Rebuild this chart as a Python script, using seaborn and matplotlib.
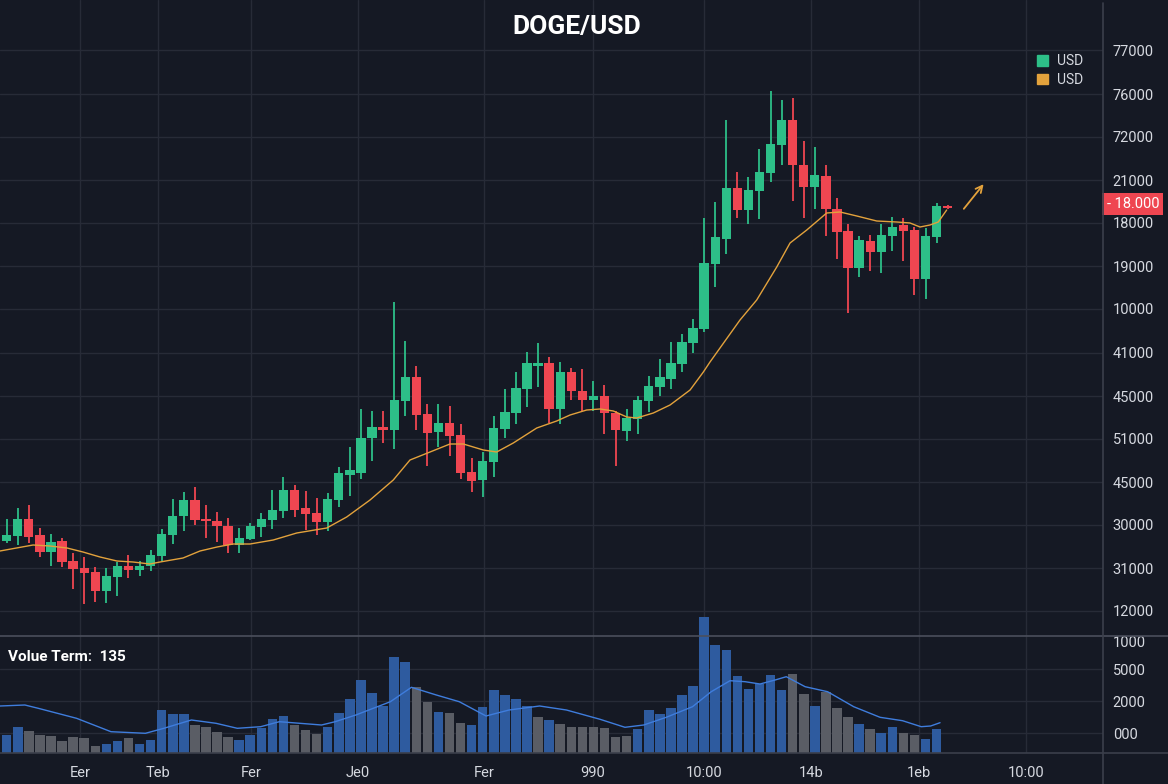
import numpy as np
import pandas as pd
import seaborn as sns
import matplotlib.pyplot as plt
from matplotlib.patches import Patch
from matplotlib.lines import Line2D

# ---- data (price on an arbitrary internal scale) ----
opens = [99, 104, 121, 105, 88, 99, 79, 72, 68, 49, 63, 74, 70, 74, 84, 105, 124, 140, 121, 119,
         114, 95, 101, 113, 120, 129, 150, 132, 127, 118, 140, 165, 167, 202, 213, 210, 239, 263, 226, 208,
         217, 205, 168, 160, 178, 211, 227, 251, 274, 277, 231, 268, 249, 240, 244, 227, 209, 221, 239, 253,
         261, 276, 297, 311, 376, 401, 452, 430, 449, 467, 495, 520, 475, 453, 464, 431, 409, 372, 399, 388,
         404, 415, 410, 361, 403, 434]
highs = [121, 132, 135, 112, 106, 102, 87, 83, 73, 72, 78, 85, 79, 90, 111, 141, 148, 153, 135, 128,
         122, 112, 117, 127, 150, 163, 155, 149, 142, 147, 173, 193, 231, 229, 229, 338, 299, 274, 236, 236,
         234, 216, 182, 188, 224, 251, 268, 288, 297, 283, 278, 272, 271, 259, 255, 229, 231, 244, 264, 281,
         298, 306, 321, 422, 438, 520, 468, 463, 491, 549, 540, 542, 499, 493, 475, 442, 416, 404, 405, 416,
         423, 422, 413, 412, 437, 435]
lows = [97, 95, 97, 83, 74, 73, 51, 36, 38, 37, 44, 62, 64, 69, 79, 96, 109, 115, 102, 98,
        87, 87, 100, 103, 111, 122, 123, 110, 105, 109, 133, 144, 161, 179, 197, 191, 224, 210, 174, 193,
        184, 161, 148, 143, 163, 202, 216, 233, 253, 217, 216, 240, 229, 229, 206, 174, 199, 206, 228, 244,
        251, 268, 287, 308, 353, 386, 422, 416, 421, 458, 475, 439, 422, 431, 404, 381, 327, 363, 369, 367,
        389, 379, 345, 341, 397, 431]
closes = [105, 121, 103, 88, 98, 78, 71, 67, 49, 64, 74, 70, 74, 85, 106, 124, 140, 120, 119, 114,
          95, 102, 114, 121, 130, 150, 130, 126, 118, 141, 167, 170, 202, 213, 210, 240, 263, 225, 207, 217,
          204, 167, 159, 179, 212, 228, 252, 277, 277, 231, 268, 249, 240, 244, 227, 210, 222, 240, 254, 263,
          277, 298, 312, 377, 403, 452, 430, 450, 468, 496, 520, 475, 453, 465, 431, 408, 372, 400, 388, 405,
          413, 409, 361, 404, 434, 432]

# moving average line (candle index, price)
ma_idx = [-0.61, 2.38, 3.91, 5.45, 6.89, 8.43, 9.96, 11.41, 12.94, 13.85, 15.93, 17.46, 19.0, 20.44,
          21.98, 24.08, 26.2, 28.91, 30.71, 32.82, 34.92, 36.43, 38.24, 40.04, 41.25, 43.05, 44.26,
          45.76, 47.88, 49.68, 50.89, 52.39, 53.6, 54.8, 56.01, 56.91, 58.41, 59.92, 61.73, 62.93,
          63.53, 66.24, 67.75, 69.56, 70.76, 72.27, 74.07, 75.28, 76.79, 78.59, 80.4, 81.6, 82.5,
          83.4, 84.15, 84.91]
ma_val = [89, 95, 94, 92, 88, 83, 79, 78, 76, 78, 82, 89, 93, 96, 96, 100, 107, 112, 123, 140, 160,
          180, 188, 196, 196, 190, 188, 197, 212, 219, 225, 230, 231, 229, 223, 222, 227, 235, 250,
          268, 278, 320, 340, 373, 397, 410, 427, 428, 424, 419, 418, 417, 413, 415, 418, 430]

volume = [18, 26, 22, 18, 17, 12, 16, 15, 7, 9, 12, 15, 9, 13, 43, 39, 39, 28, 26, 21,
          16, 13, 18, 25, 34, 37, 28, 23, 19, 26, 40, 54, 73, 60, 47, 96, 91, 66, 51, 41,
          40, 30, 28, 46, 63, 58, 54, 47, 36, 33, 29, 26, 26, 26, 25, 16, 17, 24, 43, 39,
          45, 58, 67, 136, 108, 103, 77, 64, 69, 78, 63, 79, 59, 47, 61, 45, 36, 29, 24, 20,
          26, 20, 18, 14, 24]
vol_blue = [0, 1, 9, 10, 12, 13, 14, 15, 16, 21, 22, 23, 24, 25, 29, 30, 31, 32, 33, 34, 35, 36,
            39, 42, 43, 44, 45, 46, 47, 49, 57, 58, 59, 60, 61, 62, 63, 64, 65, 66, 67, 68, 69,
            70, 73, 77, 79, 80, 83, 84]

vma_idx = [-0.61, 1.64, 2.85, 6.31, 9.42, 12.53, 14.2, 16.68, 18.91, 20.83, 22.94, 24.63, 28.44,
           29.67, 31.54, 34.66, 36.56, 38.81, 40.88, 43.3, 45.38, 48.14, 50.56, 53.6, 55.85, 57.54,
           59.58, 61.95, 63.64, 65.34, 66.7, 68.05, 69.41, 70.42, 72.12, 74.15, 76.51, 78.89, 80.92,
           82.61, 83.46, 84.31]
vma_val = [47.3, 48.3, 45, 35, 21.6, 20, 25, 33.3, 30, 25, 26.6, 31.6, 28.3, 31.6, 38.3, 51.6, 66,
           58.3, 51.6, 37.3, 43.3, 47.3, 43.3, 34, 26, 28.3, 36, 46.6, 61.6, 72.6, 71.6, 69.3, 73.3,
           76.6, 66.6, 61.6, 46.6, 36, 32.6, 26.6, 27.3, 30.6]

ytick_pos = [29, 72, 115, 158, 201, 244, 287, 331, 374, 417, 460, 503, 546, 590]
ytick_lab = ['12000', '31000', '30000', '45000', '51000', '45000', '41000', '10000', '19000',
             '18000', '21000', '72000', '76000', '77000']
xtick_pos = [6.62, 13.67, 22.07, 31.73, 43.12, 52.96, 63.0, 72.66, 82.41, 92.08]
xtick_lab = ['Eer', 'Teb', 'Fer', 'Je0', 'Fer', '990', '10:00', '14b', '1eb', '10:00']
vtick_pos = [20, 52, 84]
vtick_lab = ['000', '2000', '5000']

# ---- style ----
bg = '#151924'
grid_c = '#272b37'
txt = '#d6d9e0'
green = '#2dbf88'
red = '#ef4651'
orange = '#e3a23c'
vblue = '#2e5b9f'
vgray = '#5a5d65'

sns.set_theme(style="dark", rc={
    "axes.facecolor": bg, "figure.facecolor": bg, "grid.color": grid_c,
    "grid.linewidth": 1.0, "text.color": txt, "xtick.color": txt, "ytick.color": txt,
    "axes.edgecolor": bg,
})
plt.rcParams['font.family'] = ['Roboto', 'DejaVu Sans']

df = pd.DataFrame({"o": opens, "h": highs, "l": lows, "c": closes})
df["i"] = np.arange(len(df))
df["up"] = df["c"] >= df["o"]
df["col"] = np.where(df["up"], green, red)

vol = pd.DataFrame({"i": np.arange(len(volume)), "v": volume})
vol["side"] = np.where(vol["i"].isin(vol_blue), "up", "down")

fig = plt.figure(figsize=(11.68, 7.84), dpi=100)
ax = fig.add_axes([0, 148 / 784, 1103 / 1168, 636 / 784])
axv = fig.add_axes([0, 30.7 / 784, 1103 / 1168, 117.3 / 784])

xlim = (-0.605, 99.03)

# candles
ax.vlines(df["i"], df["l"], df["h"], colors=df["col"], linewidth=1.3, zorder=3)
body_h = np.maximum((df["c"] - df["o"]).abs(), 1.8)
ax.bar(df["i"], body_h, bottom=np.minimum(df["o"], df["c"]), width=0.84,
       color=df["col"], linewidth=0, zorder=4)
sns.lineplot(x=ma_idx, y=ma_val, color=orange, linewidth=1.0, ax=ax, zorder=5)
ax.annotate('', xy=(88.4, 458), xytext=(86.3, 429),
            arrowprops=dict(arrowstyle='->', color=orange, lw=1.3))

ax.set_xlim(*xlim)
ax.set_ylim(4, 640)
ax.set_xticks(xtick_pos)
ax.set_yticks(ytick_pos, labels=ytick_lab)
ax.yaxis.tick_right()
ax.tick_params(axis='x', labelbottom=False, length=0)
ax.tick_params(axis='y', length=0, pad=7, labelsize=10.5, labelcolor=txt)
ax.grid(True)
ax.set_xlabel('')
ax.set_ylabel('')
for s in ax.spines.values():
    s.set_visible(False)

leg = ax.legend(handles=[Patch(color=green, label='USD'), Patch(color=orange, label='USD')],
                loc='upper right', bbox_to_anchor=(0.993, 0.934), frameon=False,
                fontsize=10, handlelength=0.8, handleheight=0.8, handletextpad=0.6,
                labelspacing=0.3)
for t in leg.get_texts():
    t.set_color(txt)

# last price label
ax.annotate('- 18.000', xy=(1.0, 436), xycoords=('axes fraction', 'data'),
            xytext=(21.5, 0), textcoords='offset points', ha='center', va='center',
            fontsize=10.5, color='white', annotation_clip=False,
            bbox=dict(boxstyle='square,pad=0.3', fc=red, ec='none'))

# volume
sns.barplot(data=vol, x="i", y="v", hue="side", palette={"up": vblue, "down": vgray},
            native_scale=True, width=0.86, dodge=False, saturation=1, errorbar=None,
            legend=False, linewidth=0, ax=axv, zorder=3)
for p in axv.patches:
    p.set_clip_on(False)
sns.lineplot(x=vma_idx, y=vma_val, color='#3f7ddd', linewidth=1.0, ax=axv, zorder=4)
axv.set_xlim(*xlim)
axv.set_ylim(0, 117.3)
axv.set_xticks(xtick_pos, labels=xtick_lab)
axv.set_yticks(vtick_pos, labels=vtick_lab)
axv.set_yticks([112], labels=['1000'], minor=True)
axv.yaxis.tick_right()
axv.tick_params(axis='x', length=0, pad=9, labelsize=10.5, labelcolor=txt)
axv.tick_params(axis='y', which='both', length=0, pad=7, labelsize=10.5, labelcolor=txt)
axv.grid(True, which='major')
axv.set_xlabel('')
axv.set_ylabel('')
for s in axv.spines.values():
    s.set_visible(False)
axv.text(0.007, 0.82, 'Volue Term:  135', transform=axv.transAxes, fontsize=11,
         fontweight='bold', color='white', va='center')

# frame lines
fig.add_artist(Line2D([0, 1], [148 / 784, 148 / 784], color='#4b4f5c', lw=1.2))
fig.add_artist(Line2D([0, 1], [30.7 / 784, 30.7 / 784], color='#3b3f4b', lw=1.2))
fig.add_artist(Line2D([1103 / 1168, 1103 / 1168], [0, 1 - 3 / 784], color='#3b3f4b', lw=1.2))

fig.text(577 / 1168, 1 - 27 / 784, 'DOGE/USD', ha='center', va='center',
         fontsize=19, fontweight='bold', color='white')

fig.savefig('out.png', dpi=100, facecolor=bg)
